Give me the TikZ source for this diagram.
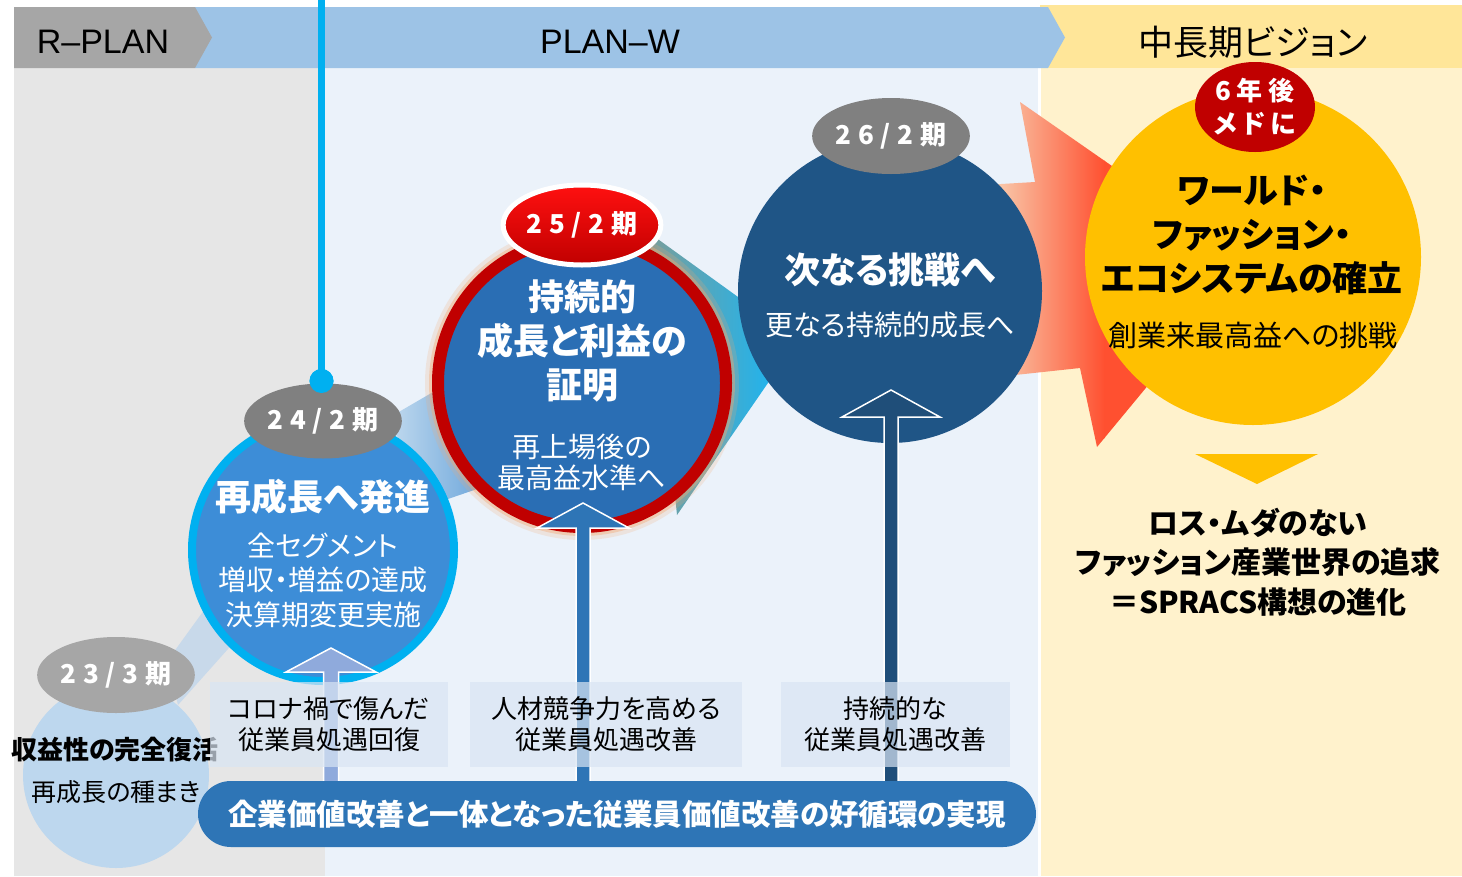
\documentclass[tikz,border=0pt]{standalone}
\usepackage{fontspec}
\setmainfont{Noto Sans CJK JP}[RawFeature=+palt]
\newfontfamily\jpfw{Noto Sans CJK JP}
\newfontfamily\latin{Liberation Sans}
\usetikzlibrary{calc,shapes.geometric}
\definecolor{hdGray}{HTML}{A6A6A6}
\definecolor{hdBlue}{HTML}{9DC3E6}
\definecolor{hdYellow}{HTML}{FFE699}
\definecolor{bgGray}{HTML}{E6E6E6}
\definecolor{bgBlue}{HTML}{EBF2FA}
\definecolor{bgCream}{HTML}{FFF2CC}
\definecolor{cyanL}{HTML}{00B0F0}
\definecolor{cA}{HTML}{BDD7EE}
\definecolor{ellA}{HTML}{A6A6A6}
\definecolor{ellB}{HTML}{808080}
\definecolor{cB}{HTML}{3D8DD7}
\definecolor{cC}{HTML}{2A6EB4}
\definecolor{ringC}{HTML}{C00000}
\definecolor{cD}{HTML}{1F5586}
\definecolor{cE}{HTML}{FFC000}
\definecolor{redE}{HTML}{C00000}
\definecolor{arA}{HTML}{8FAADC}
\definecolor{arB}{HTML}{2E75B6}
\definecolor{arC}{HTML}{1F4E79}
\definecolor{barC}{HTML}{2E75B6}
\definecolor{boxC}{HTML}{D9E5F3}
\definecolor{bandA}{HTML}{C8D9EA}
\definecolor{bandBl}{HTML}{C5DCEF}
\definecolor{bandBr}{HTML}{6FA8DC}
\definecolor{bandCl}{HTML}{7A9E9A}
\definecolor{bandCr}{HTML}{22B3EC}
\definecolor{arrL}{HTML}{F8CBAD}
\definecolor{arrR}{HTML}{FF5030}
\definecolor{glowC}{HTML}{F4A870}
\definecolor{redTop}{HTML}{FF1010}
\begin{document}
\begin{tikzpicture}[x=1pt,y=-1pt,
  every node/.style={inner sep=0pt, outer sep=0pt},
  ellbl/.style={ellipse, inner sep=0pt, text=white, font=\fontsize{26}{26}\selectfont\bfseries},
  bigw/.style={text=white, align=center, font=\fontsize{36}{44}\selectfont\bfseries},
  midw/.style={text=white, align=center, font=\fontsize{28}{34.5}\selectfont},
  boxs/.style={fill=boxC, fill opacity=0.7, text opacity=1, minimum height=85pt, align=center, font=\fontsize{26}{31}\selectfont},
  uparr/.style={draw=white, line width=1.5pt, line join=miter},
]
\useasboundingbox (0,0) rectangle (1462,876);
% backgrounds
\fill[bgGray] (14,68) rectangle (325,876);
\fill[bgBlue] (325,68) rectangle (1038,876);
\fill[bgCream] (1041,68) rectangle (1462,876);
% header bands
\fill[hdYellow] (1040,5) rectangle (1462,68);
\fill[hdBlue] (195,7) -- (1048,7) -- (1065,37.5) -- (1048,68) -- (195,68) -- cycle;
\fill[hdGray] (14,7) -- (195,7) -- (212,37.5) -- (195,68) -- (14,68) -- cycle;
\node[font=\latin\fontsize{34}{34}\selectfont] (rplan) at (103,42) {R–PLAN};
\node[font=\latin\fontsize{34}{34}\selectfont] (planw) at (610,42) {PLAN–W};
\node[font=\fontsize{35}{35}\selectfont] (vis) at (1253,42) {中長期ビジョン};
% vertical cyan line
\coordinate (ltop) at (321.5,0);
\node[circle, fill=cyanL, minimum size=24pt] (dot) at (321.5,381) {};
\draw[cyanL, line width=7pt] (ltop) -- (dot.center);
% connector bands
\fill[bandA] (168,660) -- (215,595) -- (236,640) -- (178,705) -- cycle;
\shade[left color=bandBl, right color=bandBr] (385,420) -- (440,388) -- (480,488) -- (445,500) -- cycle;
\shade[left color=bandCl, right color=bandCr] (648,232) -- (745,302) -- (770,380) -- (677,515) -- cycle;
% orange arrow
\begin{scope}
\clip (950,187) -- (1035,182) -- (1020,102) -- (1250,262) -- (1097,447) -- (1080,368) -- (950,382) -- cycle;
\shade[left color=arrL, right color=arrR] (995,90) rectangle (1105,460);
\fill[arrR] (1104,90) rectangle (1260,460);
\fill[arrL] (940,90) rectangle (996,460);
\end{scope}
% circle 23/3
\node[circle, fill=cA, minimum size=186pt] (c23) at (116,775) {};
\node[ellbl, fill=ellA, minimum width=138pt, minimum height=76pt] (e23) at (116,675) {2\hspace{7pt}3\hspace{7pt}/\hspace{7pt}3\hspace{7pt}期};
\node[font=\fontsize{26}{26}\selectfont\bfseries] (t23a) at (115,750) {収益性の完全復活};
\node[font=\fontsize{25}{25}\selectfont] (t23b) at (116,792) {再成長の種まき};
% circle 24/2
\node[circle, fill=cB, draw=cyanL, line width=8pt, minimum size=262pt] (c24) at (323,550) {};
\node[ellbl, fill=ellB, minimum width=137pt, minimum height=75pt] (e24) at (323,421) {2\hspace{7pt}4\hspace{7pt}/\hspace{7pt}2\hspace{7pt}期};
\node[circle, fill=cyanL, minimum size=24pt] (dot2) at (dot) {};
\node[bigw] (t24a) at (323,497) {再成長へ発進};
\node[midw] (t24b) at (323,580) {全セグメント\\増収・増益の達成\\決算期変更実施};
% circle 25/2
\fill[glowC, opacity=0.2] (582,383) circle (157pt);
\fill[glowC, opacity=0.4] (582,383) circle (153pt);
\node[circle, fill=cC, draw=ringC, line width=12pt, minimum size=288pt] (c25) at (582,383) {};
\node[ellipse, top color=redTop, bottom color=redE, draw=white, line width=5pt, minimum width=140pt, minimum height=80pt, text=white, font=\fontsize{26}{26}\selectfont\bfseries] (e25) at (582,225) {2\hspace{7pt}5\hspace{7pt}/\hspace{7pt}2\hspace{7pt}期};
\node[bigw] (t25a) at (582,341) {持続的\\成長と利益の\\証明};
\node[midw, font=\fontsize{28}{31}\selectfont] (t25b) at (582,462) {再上場後の\\最高益水準へ};
% circle 26/2
\node[circle, fill=cD, minimum size=304pt] (c26) at (890,291) {};
\node[ellbl, fill=ellB, minimum width=138pt, minimum height=76pt] (e26) at (891,136) {2\hspace{7pt}6\hspace{7pt}/\hspace{7pt}2\hspace{7pt}期};
\node[bigw] (t26a) at (890,270) {次なる挑戦へ};
\node[midw] (t26b) at (890,325) {更なる持続的成長へ};
% vision circle
\node[circle, fill=cE, minimum size=336pt] (cV) at (1253,257) {};
\node[ellipse, fill=redE, minimum width=120pt, minimum height=90pt, text=white, align=center, font=\fontsize{26}{33}\selectfont\bfseries] (eV) at (1255,107) {6\hspace{6pt}年\hspace{6pt}後\\メ\hspace{5pt}ド\hspace{5pt}に};
\node[align=center, font=\fontsize{35}{44}\selectfont\bfseries] (tVa) at (1252,235) {ワールド・\\ファッション・\\エコシステムの確立};
\node[font=\fontsize{29}{29}\selectfont] (tVb) at (1253,335) {創業来最高益への挑戦};
% down triangle and text
\fill[cE] (1195,454) -- (1318,454) -- (1257,484) -- cycle;
\node[align=center, font=\fontsize{30}{39.5}\selectfont\bfseries] (tR) at (1258,562) {ロス・ムダのない\\ファッション産業世界の追求\\＝SPRACS構想の進化};
% arrow coordinates
\coordinate (a1b) at (331,781); \coordinate (a1t) at (331,648);
\coordinate (a2b) at (583,781); \coordinate (a2t) at (583,503);
\coordinate (a3b) at (891,781); \coordinate (a3t) at (891,390);
% up arrows
\draw[uparr, fill=arA] ($(a1b)+(-7.5,0)$) -- ($(a1t)+(-7.5,24)$) -- ($(a1t)+(-45,24)$) -- (a1t) -- ($(a1t)+(45,24)$) -- ($(a1t)+(7.5,24)$) -- ($(a1b)+(7.5,0)$);
\draw[uparr, fill=arB] ($(a2b)+(-7,0)$) -- ($(a2t)+(-7,25)$) -- ($(a2t)+(-46,25)$) -- (a2t) -- ($(a2t)+(46,25)$) -- ($(a2t)+(7,25)$) -- ($(a2b)+(7,0)$);
\draw[uparr, fill=arC] ($(a3b)+(-7,0)$) -- ($(a3t)+(-7,27)$) -- ($(a3t)+(-49,27)$) -- (a3t) -- ($(a3t)+(49,27)$) -- ($(a3t)+(7,27)$) -- ($(a3b)+(7,0)$);
% text boxes
\node[boxs, minimum width=238pt] (b1) at (329,724.5) {コロナ禍で傷んだ\\従業員処遇回復};
\node[boxs, minimum width=272pt] (b2) at (606,724.5) {人材競争力を高める\\従業員処遇改善};
\node[boxs, minimum width=229pt] (b3) at (895.5,724.5) {持続的な\\従業員処遇改善};
% bottom bar
\node[fill=barC, rounded corners=33pt, minimum width=838pt, minimum height=66pt, text=white, font=\fontsize{29.5}{29.5}\selectfont\bfseries] (bar) at (617,814) {企業価値改善と一体となった従業員価値改善の好循環の実現};
\end{tikzpicture}
\end{document}
